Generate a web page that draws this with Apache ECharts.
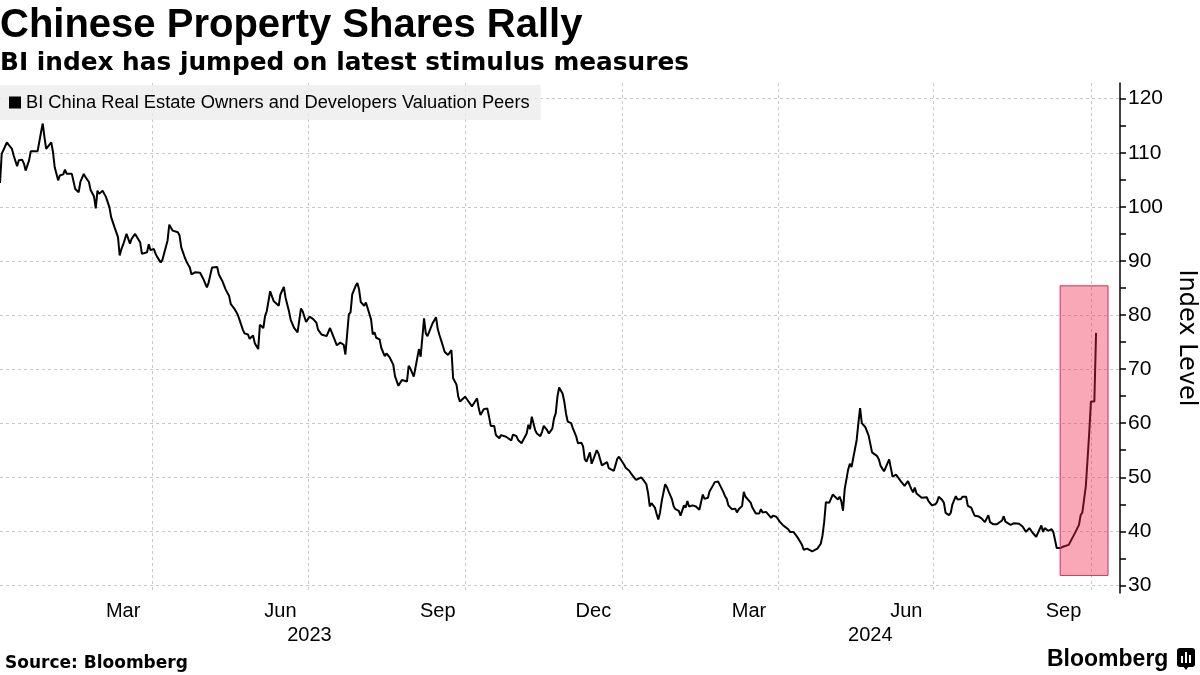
<!DOCTYPE html>
<html><head><meta charset="utf-8">
<script src="https://cdn.jsdelivr.net/npm/echarts@6/dist/echarts.min.js"></script>
<style>html,body{margin:0;padding:0;background:#fff}#c{width:1200px;height:675px}</style>
</head><body><div id="c"></div>
<script>
const titleText = 'Chinese Property Shares Rally';
const subtitleText = 'BI index has jumped on latest stimulus measures';
const sourceText = 'Source: Bloomberg';
const seriesName = 'BI China Real Estate Owners and Developers Valuation Peers';
const yAxisName = 'Index Level';

const dates = [
'2023-01-02','2023-01-03','2023-01-04','2023-01-06','2023-01-07','2023-01-09','2023-01-10','2023-01-12','2023-01-13','2023-01-15',
'2023-01-16','2023-01-17','2023-01-19','2023-01-20','2023-01-24','2023-01-26','2023-01-27','2023-01-28','2023-01-29','2023-01-30',
'2023-02-01','2023-02-02','2023-02-03','2023-02-05','2023-02-06','2023-02-07','2023-02-08','2023-02-09','2023-02-10','2023-02-11',
'2023-02-13','2023-02-15','2023-02-16','2023-02-17','2023-02-18','2023-02-20','2023-02-21','2023-02-23','2023-02-24','2023-02-26',
'2023-02-27','2023-02-28','2023-03-01','2023-03-03','2023-03-04','2023-03-05','2023-03-07','2023-03-08','2023-03-10','2023-03-12',
'2023-03-13','2023-03-14','2023-03-15','2023-03-16','2023-03-17','2023-03-19','2023-03-20','2023-03-22','2023-03-23','2023-03-25',
'2023-03-26','2023-03-27','2023-03-29','2023-03-30','2023-03-31','2023-04-02','2023-04-03','2023-04-04','2023-04-06','2023-04-07',
'2023-04-08','2023-04-10','2023-04-11','2023-04-13','2023-04-14','2023-04-16','2023-04-17','2023-04-18','2023-04-20','2023-04-21',
'2023-04-23','2023-04-24','2023-04-26','2023-04-29','2023-05-01','2023-05-03','2023-05-04','2023-05-06','2023-05-07','2023-05-09',
'2023-05-10','2023-05-12','2023-05-14','2023-05-16','2023-05-17','2023-05-19','2023-05-21','2023-05-22','2023-05-24','2023-05-25',
'2023-05-27','2023-05-28','2023-05-30','2023-05-31','2023-06-02','2023-06-03','2023-06-05','2023-06-06','2023-06-07','2023-06-09',
'2023-06-10','2023-06-11','2023-06-12','2023-06-14','2023-06-15','2023-06-17','2023-06-18','2023-06-20','2023-06-21','2023-06-22',
'2023-06-23','2023-06-25','2023-06-26','2023-06-27','2023-06-28','2023-06-30','2023-07-01','2023-07-02','2023-07-04','2023-07-06',
'2023-07-07','2023-07-09','2023-07-10','2023-07-12','2023-07-14','2023-07-15','2023-07-16','2023-07-18','2023-07-20','2023-07-21',
'2023-07-22','2023-07-23','2023-07-25','2023-07-26','2023-07-27','2023-07-29','2023-07-30','2023-07-31','2023-08-01','2023-08-03',
'2023-08-04','2023-08-05','2023-08-07','2023-08-08','2023-08-09','2023-08-10','2023-08-12','2023-08-13','2023-08-15','2023-08-16',
'2023-08-18','2023-08-20','2023-08-21','2023-08-22','2023-08-23','2023-08-25','2023-08-26','2023-08-28','2023-08-29','2023-08-30',
'2023-09-01','2023-09-02','2023-09-04','2023-09-05','2023-09-07','2023-09-08','2023-09-09','2023-09-10','2023-09-12','2023-09-14',
'2023-09-15','2023-09-16','2023-09-18','2023-09-19','2023-09-21','2023-09-22','2023-09-23','2023-09-24','2023-09-26','2023-09-27',
'2023-09-28','2023-09-29','2023-10-01','2023-10-02','2023-10-03','2023-10-05','2023-10-06','2023-10-08','2023-10-09','2023-10-10',
'2023-10-12','2023-10-14','2023-10-15','2023-10-16','2023-10-18','2023-10-19','2023-10-21','2023-10-22','2023-10-23','2023-10-25',
'2023-10-26','2023-10-28','2023-10-29','2023-10-31','2023-11-01','2023-11-03','2023-11-04','2023-11-06','2023-11-07','2023-11-08',
'2023-11-09','2023-11-11','2023-11-12','2023-11-14','2023-11-15','2023-11-16','2023-11-18','2023-11-19','2023-11-21','2023-11-22',
'2023-11-23','2023-11-24','2023-11-25','2023-11-27','2023-11-28','2023-11-29','2023-11-30','2023-12-02','2023-12-03','2023-12-05',
'2023-12-06','2023-12-08','2023-12-09','2023-12-10','2023-12-11','2023-12-13','2023-12-14','2023-12-15','2023-12-17','2023-12-18',
'2023-12-20','2023-12-21','2023-12-23','2023-12-24','2023-12-27','2023-12-29','2023-12-30','2023-12-31',
'2024-01-02','2024-01-03','2024-01-05','2024-01-06','2024-01-08','2024-01-09','2024-01-10','2024-01-12','2024-01-13','2024-01-15',
'2024-01-16','2024-01-17','2024-01-18','2024-01-20','2024-01-21','2024-01-22','2024-01-23','2024-01-24','2024-01-26','2024-01-27',
'2024-01-28','2024-01-30','2024-01-31','2024-02-01','2024-02-03','2024-02-04','2024-02-06','2024-02-07','2024-02-08','2024-02-09',
'2024-02-11','2024-02-12','2024-02-13','2024-02-15','2024-02-16','2024-02-17','2024-02-18','2024-02-20','2024-02-21','2024-02-23',
'2024-02-24','2024-02-26','2024-02-27','2024-02-29','2024-03-01','2024-03-02','2024-03-03','2024-03-05','2024-03-06','2024-03-07',
'2024-03-08','2024-03-09','2024-03-11','2024-03-12','2024-03-13','2024-03-14','2024-03-16','2024-03-17','2024-03-19','2024-03-21',
'2024-03-22','2024-03-23','2024-03-25','2024-03-26','2024-03-28','2024-03-29','2024-03-31','2024-04-01','2024-04-02','2024-04-04',
'2024-04-05','2024-04-07','2024-04-08','2024-04-10','2024-04-11','2024-04-13','2024-04-15','2024-04-16','2024-04-18','2024-04-19',
'2024-04-21','2024-04-22','2024-04-24','2024-04-26','2024-04-27','2024-04-28','2024-04-29','2024-04-30','2024-05-01','2024-05-03',
'2024-05-04','2024-05-06','2024-05-07','2024-05-08','2024-05-09','2024-05-10','2024-05-12','2024-05-13','2024-05-14','2024-05-15',
'2024-05-17','2024-05-18','2024-05-19','2024-05-20','2024-05-22','2024-05-23','2024-05-24','2024-05-26','2024-05-27','2024-05-29',
'2024-05-30','2024-05-31','2024-06-02','2024-06-03','2024-06-05','2024-06-06','2024-06-07','2024-06-09','2024-06-10','2024-06-12',
'2024-06-14','2024-06-15','2024-06-16','2024-06-18','2024-06-19','2024-06-20','2024-06-21','2024-06-22','2024-06-24','2024-06-25',
'2024-06-27','2024-06-28','2024-06-30','2024-07-02','2024-07-03','2024-07-04','2024-07-06','2024-07-07','2024-07-08','2024-07-10',
'2024-07-11','2024-07-12','2024-07-14','2024-07-15','2024-07-17','2024-07-18','2024-07-20','2024-07-21','2024-07-23','2024-07-24',
'2024-07-25','2024-07-27','2024-07-29','2024-07-31','2024-08-02','2024-08-03','2024-08-05','2024-08-07','2024-08-08','2024-08-10',
'2024-08-11','2024-08-12','2024-08-15','2024-08-17','2024-08-20','2024-08-22','2024-08-24','2024-08-26','2024-08-28','2024-08-30',
'2024-08-31','2024-09-02','2024-09-03','2024-09-04','2024-09-06','2024-09-08','2024-09-09','2024-09-10','2024-09-11','2024-09-13',
'2024-09-15','2024-09-16','2024-09-18','2024-09-19','2024-09-21','2024-09-22','2024-09-24','2024-09-25','2024-09-26','2024-09-27',
'2024-09-28','2024-09-29','2024-09-30','2024-10-01','2024-10-03','2024-10-04'
];

const values = [
104.4,109.8,110.1,111.9,111.5,110.7,109.5,107.5,108.6,108.7,
108.0,106.7,108.6,110.3,110.3,113.8,115.4,112.9,110.7,110.4,
111.9,110.1,107.3,104.9,105.8,105.5,106.0,106.9,106.1,106.2,
106.1,103.3,103.1,102.7,104.6,106.1,105.5,104.6,103.1,101.9,
99.7,103.0,102.4,103.0,103.3,101.8,99.9,98.1,96.2,94.4,
91.0,92.2,93.0,93.1,95.0,93.2,94.1,95.0,94.7,93.4,
91.3,91.6,91.6,93.1,92.0,92.2,91.3,90.7,89.7,90.2,
90.1,93.8,96.7,95.6,95.3,95.3,94.7,92.5,90.7,89.9,
88.8,87.5,87.9,87.8,86.6,85.1,86.0,88.8,88.8,88.9,
87.5,86.3,84.7,83.5,82.0,81.2,80.1,79.2,77.3,76.6,
76.4,75.6,76.2,74.8,73.7,78.2,77.6,79.8,80.7,84.4,
83.5,82.6,82.8,81.7,83.8,85.2,83.2,80.7,79.1,78.9,
77.6,76.8,76.6,81.2,80.7,78.7,79.2,79.7,79.3,78.6,
77.3,76.4,76.2,76.1,77.6,76.8,76.6,74.4,74.9,75.2,
74.5,72.7,80.1,80.5,83.8,85.4,85.9,84.7,82.4,81.7,
82.3,82.1,79.2,76.4,76.8,75.8,75.5,73.9,72.4,72.9,
72.1,70.8,68.7,68.8,66.9,68.0,68.3,67.7,70.6,70.1,
68.6,68.6,73.7,72.3,79.4,76.6,76.1,76.3,78.5,79.6,
77.4,76.3,74.3,73.2,72.6,72.3,73.5,68.3,67.1,64.9,
64.0,64.3,64.9,65.0,64.0,63.1,63.2,64.6,62.7,61.5,
62.6,62.7,61.2,59.5,59.5,57.8,57.2,57.8,57.6,57.5,
57.4,56.8,57.9,57.6,56.9,56.3,56.2,58.1,59.7,58.9,
61.2,58.7,58.1,57.6,58.4,59.5,58.7,58.1,59.0,60.9,
61.8,64.9,66.6,65.5,64.0,61.8,60.3,60.0,59.1,57.5,
56.3,56.4,55.7,53.3,52.9,54.6,52.5,53.3,55.0,54.4,
52.2,52.2,52.8,51.7,51.2,53.4,53.8,53.6,
52.3,51.7,51.2,50.7,49.9,49.5,49.3,50.0,49.6,48.7,
47.1,44.6,45.2,44.4,43.2,42.2,43.5,45.6,48.7,48.2,
47.4,45.9,44.6,44.1,43.8,42.9,44.8,44.4,45.6,44.6,
44.8,44.7,44.6,44.0,43.8,46.8,46.0,46.2,47.4,48.5,
49.1,49.2,49.1,47.3,46.5,46.0,44.8,44.1,44.4,44.2,
43.5,44.1,44.7,47.3,46.4,46.2,45.3,44.4,43.3,43.3,
44.1,43.5,43.6,43.3,42.5,42.9,42.7,42.5,41.8,41.1,
40.9,40.4,39.9,39.9,39.5,38.6,37.5,36.6,36.8,36.6,
36.3,36.5,36.8,37.7,39.2,41.7,45.4,45.4,45.3,46.8,
46.7,45.9,46.4,45.6,43.8,47.8,51.4,52.5,51.9,51.7,
56.9,60.0,62.8,60.0,59.3,59.1,57.7,54.6,54.8,53.9,
53.3,52.1,51.1,50.9,53.3,51.7,50.1,50.5,50.2,49.2,
48.4,48.1,49.3,47.8,47.2,48.1,47.0,46.7,46.2,46.3,
46.3,45.6,44.8,45.0,45.4,46.4,45.8,45.3,43.4,43.0,
43.4,45.0,46.5,45.9,46.0,46.4,46.4,44.7,44.4,43.6,
42.9,42.8,42.4,41.7,43.0,41.7,41.3,41.3,41.5,42.0,
42.8,41.8,41.2,41.5,41.4,40.9,39.9,40.6,39.7,39.0,
39.7,41.1,39.9,40.6,40.1,40.4,39.9,38.4,36.9,36.9,
37.2,37.2,37.5,37.7,39.3,39.9,41.2,43.0,43.5,43.5,
48.3,53.2,58.2,64.0,64.0,76.7
];

const axisStart = '2023-01-02';
const axisEnd = '2024-10-18';
const quarterStarts = ['2023-04-01','2023-07-01','2023-10-01','2024-01-01','2024-04-01','2024-07-01','2024-10-01'];
const monthLabelDates = ['2023-03-15','2023-06-15','2023-09-15','2023-12-15','2024-03-15','2024-06-15','2024-09-15'];
const monthLabelTexts = ['Mar','Jun','Sep','Dec','Mar','Jun','Sep'];
const yearLabelDates = ['2023-07-02','2024-05-25'];
const yearLabelTexts = ['2023','2024'];
const yMin = 28.6, yMax = 122.9;
const yTickValues = [30,35,40,45,50,55,60,65,70,75,80,85,90,95,100,105,110,115,120];
const yLabelValues = [30,40,50,60,70,80,90,100,110,120];
const highlightStart = '2024-09-13';
const highlightEnd = '2024-10-11';
const highlightLow = 31.85;
const highlightHigh = 85.4;

// dates -> UTC timestamps (a value axis in time units)
const ts = d => { const p = d.split('-').map(Number); return Date.UTC(p[0], p[1] - 1, p[2]); };
const monthMap = {}; monthLabelDates.forEach((d, i) => { monthMap[ts(d)] = monthLabelTexts[i]; });
const yearMap = {}; yearLabelDates.forEach((d, i) => { yearMap[ts(d)] = yearLabelTexts[i]; });
const seriesData = dates.map((d, i) => [ts(d), values[i]]);

const FONT = 'Liberation Sans';
const gridLine = { show: true, lineStyle: { type: [3, 3], color: '#c8c8c8', width: 1 } };

const chart = echarts.init(document.getElementById('c'), null, { renderer: 'canvas' });
chart.setOption({
  animation: false,
  backgroundColor: '#fff',
  title: [
    { text: titleText, left: 0, top: 6, padding: 0, textStyle: { fontFamily: FONT, fontWeight: 'bold', fontSize: 40, color: '#000' } },
    { text: subtitleText, left: 0, top: 51, padding: 0, textStyle: { fontFamily: 'DejaVu Sans', fontWeight: 'bold', fontSize: 24.8, color: '#000' } },
    { text: sourceText, left: 5, top: 655, padding: 0, textStyle: { fontFamily: 'DejaVu Sans', fontWeight: 'bold', fontSize: 17, color: '#000' } },
    { text: 'Bloomberg', left: 1047, top: 648, padding: 0, textStyle: { fontFamily: FONT, fontWeight: 'bold', fontSize: 23, color: '#000' } }
  ],
  legend: {
    show: true, data: [seriesName], left: 0, top: 85, padding: [8, 11, 8, 9],
    itemWidth: 12, itemHeight: 12, icon: 'rect', selectedMode: false,
    backgroundColor: 'rgba(236,236,236,0.8)',
    textStyle: { fontFamily: FONT, fontSize: 18.3, color: '#000', lineHeight: 19 }
  },
  grid: { left: 0, right: 80, top: 83, bottom: 82, containLabel: false, outerBoundsMode: 'none' },
  xAxis: [
    {
      type: 'value', min: ts(axisStart), max: ts(axisEnd),
      axisLine: { show: false },
      axisTick: { show: false, customValues: quarterStarts.map(ts) },
      splitLine: gridLine,
      axisLabel: { customValues: monthLabelDates.map(ts), formatter: v => monthMap[v] || '', fontFamily: FONT, fontSize: 20, color: '#000', margin: 8 }
    },
    {
      type: 'value', min: ts(axisStart), max: ts(axisEnd), position: 'bottom', offset: 24,
      axisLine: { show: false }, axisTick: { show: false }, splitLine: { show: false },
      axisLabel: { customValues: yearLabelDates.map(ts), formatter: v => yearMap[v] || '', fontFamily: FONT, fontSize: 20, color: '#000', margin: 8 }
    }
  ],
  yAxis: [
    {
      type: 'value', position: 'right', min: yMin, max: yMax,
      axisLine: { show: true, lineStyle: { color: '#000', width: 1.5 } },
      axisTick: { show: true, inside: false, length: 6, customValues: yTickValues, lineStyle: { color: '#000', width: 1.5 } },
      axisLabel: { customValues: yLabelValues, fontFamily: FONT, fontSize: 21, color: '#000', margin: 8 },
      splitLine: { show: false },
      name: yAxisName, nameLocation: 'middle', nameRotate: -90, nameGap: 51,
      nameTextStyle: { fontFamily: 'DejaVu Sans', fontSize: 24, color: '#000' }
    },
    {
      type: 'value', position: 'right', min: yMin, max: yMax,
      axisLine: { show: false }, axisTick: { show: false, customValues: yLabelValues },
      axisLabel: { show: false }, splitLine: gridLine
    }
  ],
  series: [{
    name: seriesName, type: 'line', xAxisIndex: 0, yAxisIndex: 0,
    data: seriesData, showSymbol: false, symbol: 'none',
    color: '#000', lineStyle: { color: '#000', width: 2 },
    markArea: {
      silent: true, z: 5,
      label: { show: false },
      itemStyle: { color: 'rgba(237,37,75,0.4)', borderColor: '#cc3355', borderWidth: 1 },
      data: [[{ xAxis: ts(highlightStart), yAxis: highlightHigh }, { xAxis: ts(highlightEnd), yAxis: highlightLow }]]
    }
  }],
  graphic: [{
    type: 'group', left: 1177, top: 648,
    children: [
      { type: 'rect', shape: { x: 0, y: 0, width: 18, height: 19, r: 3 }, style: { fill: '#000' } },
      { type: 'polygon', shape: { points: [[6, 18], [12, 18], [9, 22]] }, style: { fill: '#000' } },
      { type: 'rect', shape: { x: 4, y: 8, width: 2, height: 7 }, style: { fill: '#fff' } },
      { type: 'rect', shape: { x: 8, y: 4, width: 2, height: 11 }, style: { fill: '#fff' } },
      { type: 'rect', shape: { x: 12, y: 7, width: 2, height: 8 }, style: { fill: '#fff' } }
    ]
  }]
});
</script>
</body></html>
